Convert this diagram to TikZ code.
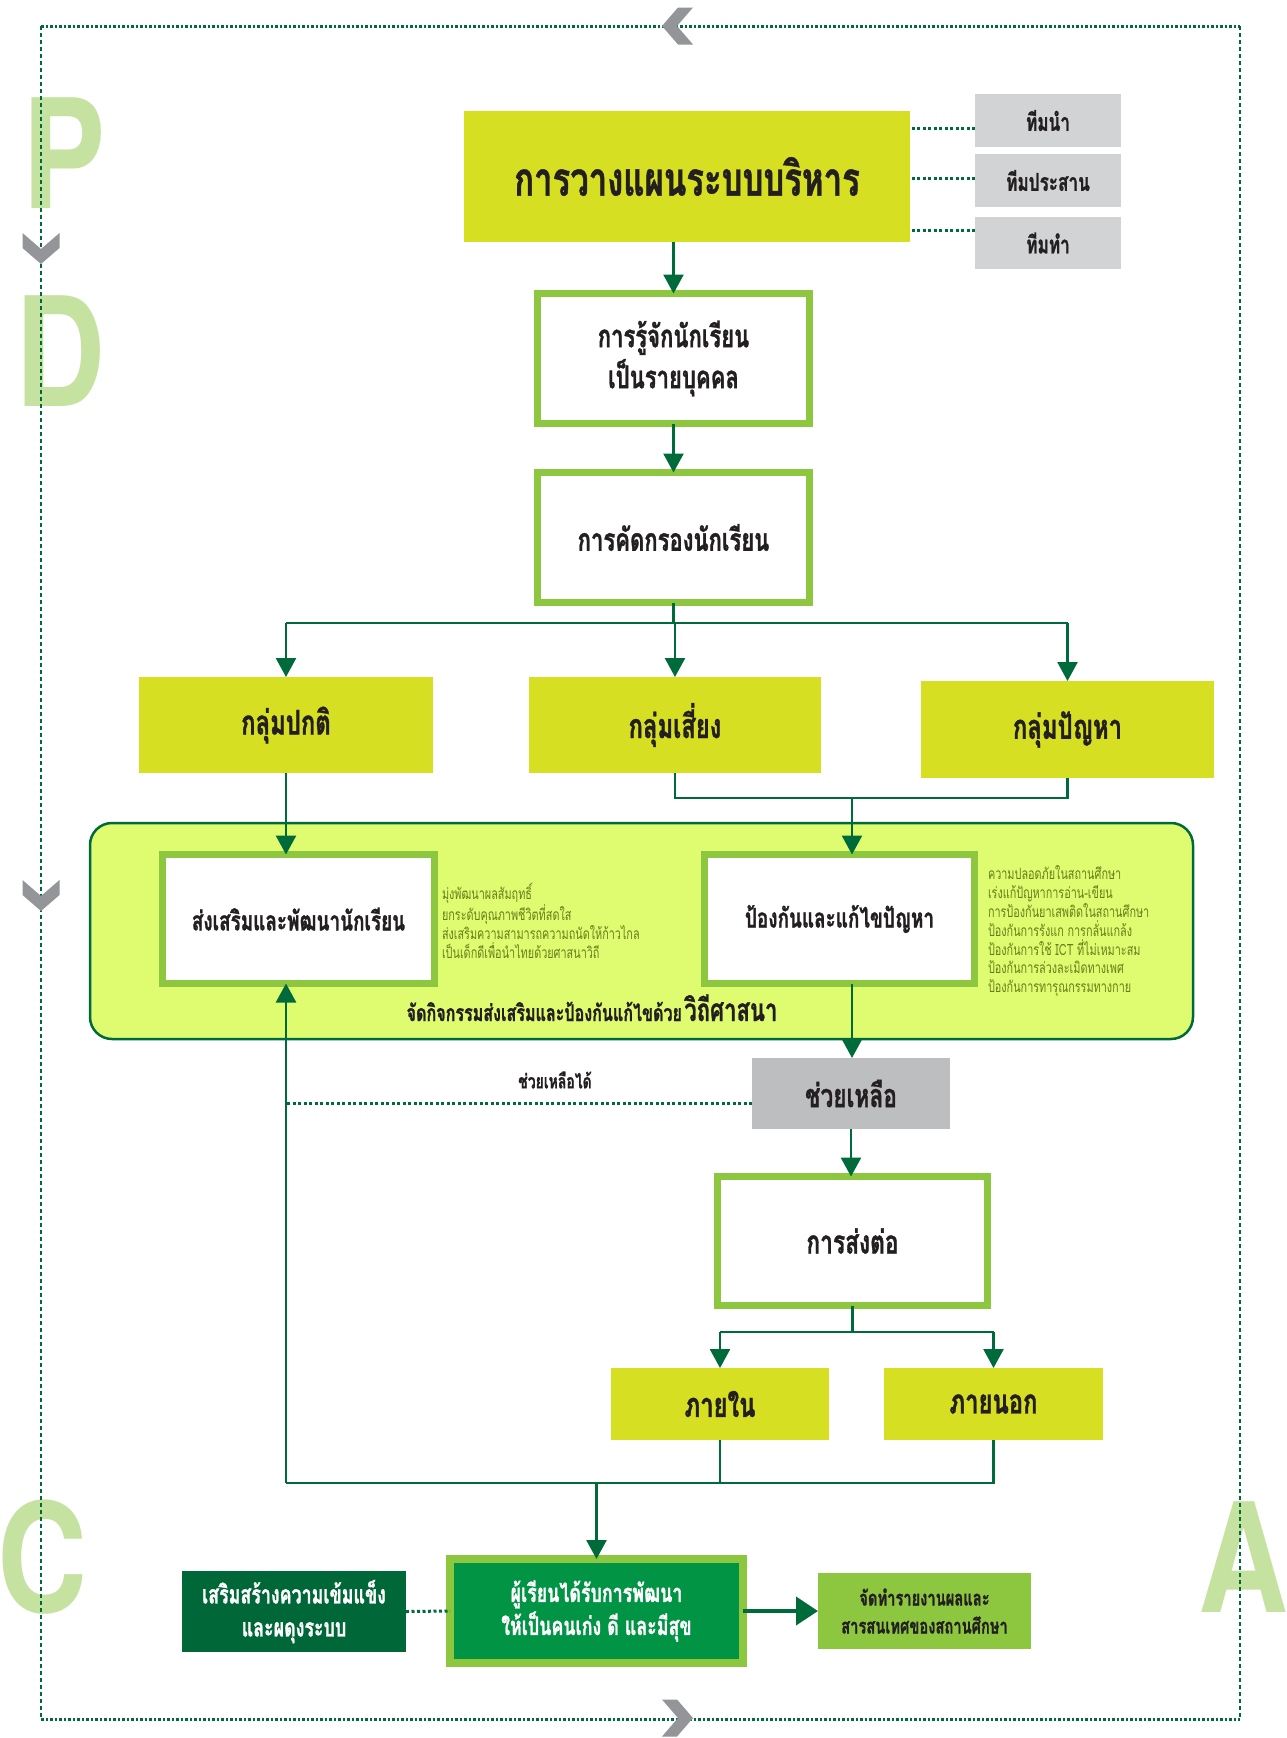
\documentclass[tikz,border=0pt]{standalone}
\usepackage{fontspec}
\usetikzlibrary{arrows.meta,calc}
\newfontfamily\thai[Script=Thai,FakeStretch=0.7,BoldFeatures={FakeBold=1}]{Loma}
\newfontfamily\pdca[FakeStretch=0.82]{TeX Gyre Heros}
\definecolor{lime}{HTML}{D7DF23}
\definecolor{lgreen}{HTML}{8DC63F}
\definecolor{dkgreen}{HTML}{006B3A}
\definecolor{midgreen}{HTML}{009444}
\definecolor{darkbox}{HTML}{006838}
\definecolor{region}{HTML}{DFFC70}
\definecolor{teamgray}{HTML}{D1D3D4}
\definecolor{helpgray}{HTML}{BCBEC0}
\definecolor{letter}{HTML}{C6E2A0}
\definecolor{chev}{HTML}{939598}
\definecolor{ink}{HTML}{231F20}
\definecolor{olive}{HTML}{647F1A}
\begin{document}
\begin{tikzpicture}[x=1pt,y=-1pt,
  every node/.style={inner sep=0pt, outer sep=0pt, text=ink, font=\thai\bfseries},
  limebox/.style={fill=lime, align=center},
  wbox/.style={fill=white, draw=lgreen, line width=7pt, align=center},
  graybox/.style={fill=teamgray, align=center},
  link/.style={draw=dkgreen, line width=2.6pt},
  flow/.style={link, -{Triangle[length=19pt,width=20pt]}},
  dotline/.style={draw=dkgreen, line width=3pt, dash pattern=on 3pt off 2.5pt},
  letterstyle/.style={text=letter, font=\pdca\bfseries\fontsize{152}{152}\selectfont},
  small/.style={text=olive, align=left, font=\thai\fontsize{15.5}{18.8}\selectfont}
]
\useasboundingbox (0,0) rectangle (1287,1738);
\fill[white] (0,0) rectangle (1287,1738);

% PDCA letters
\node[letterstyle] (P) at (64,153) {P};
\node[letterstyle] (D) at (60,351) {D};
\node[letterstyle] (C) at (42,1557) {C};
\node[letterstyle] (A) at (1243,1557) {A};

% frame
\coordinate (fTL) at (41,26);
\coordinate (fTR) at (1240,26);
\coordinate (fBL) at (41,1719);
\coordinate (fBR) at (1240,1719);
\draw[dkgreen, line width=3pt, dash pattern=on 2.5pt off 2pt] (fTL) -- (fTR);
\draw[dkgreen, line width=3pt, dash pattern=on 2.5pt off 2pt] (fBL) -- (fBR);
\draw[dkgreen, line width=2pt, dash pattern=on 4pt off 3pt] (fTL) -- (fBL);
\draw[dkgreen, line width=2pt, dash pattern=on 4pt off 3pt] (fTR) -- (fBR);

% chevrons
\fill[chev] (693,7.5) -- (677,26) -- (693,44.5) -- (678,44.5) -- (662,26) -- (678,7.5) -- cycle;
\fill[chev] (662,1699.5) -- (678,1718) -- (662,1736.5) -- (677,1736.5) -- (693,1718) -- (677,1699.5) -- cycle;
\fill[chev] (22.5,233) -- (41,249) -- (59.5,233) -- (59.5,248) -- (41,264) -- (22.5,248) -- cycle;
\fill[chev] (22.5,880) -- (41,896) -- (59.5,880) -- (59.5,895) -- (41,911) -- (22.5,895) -- cycle;

% planning
\node[limebox, minimum width=446pt, minimum height=131pt, font=\thai\bfseries\fontsize{47}{50}\selectfont] (main) at (687,176.5) {การวางแผนระบบบริหาร};
\node[graybox, minimum width=146pt, minimum height=53pt, font=\thai\bfseries\fontsize{24.5}{28}\selectfont] (t1) at (1048,120.5) {ทีมนำ};
\node[graybox, minimum width=146pt, minimum height=53pt, font=\thai\bfseries\fontsize{24.5}{28}\selectfont] (t2) at (1048,180.5) {ทีมประสาน};
\node[graybox, minimum width=146pt, minimum height=52pt, font=\thai\bfseries\fontsize{24.5}{28}\selectfont] (t3) at (1048,243) {ทีมทำ};
\coordinate (d1) at ($(t1.west)+(0,7.5)$);
\coordinate (d2) at ($(t2.west)+(0,-2.5)$);
\coordinate (d3) at ($(t3.west)+(0,-13)$);
\draw[dotline] (d1) -- (d1 -| main.east);
\draw[dotline] (d2) -- (d2 -| main.east);
\draw[dotline] (d3) -- (d3 -| main.east);

\node[wbox, minimum width=272pt, minimum height=130pt, font=\thai\bfseries\fontsize{31.5}{41}\selectfont] (know) at (673.5,358.5) {การรู้จักนักเรียน\\เป็นรายบุคคล};
\node[wbox, minimum width=272pt, minimum height=130pt, font=\thai\bfseries\fontsize{31.5}{36}\selectfont] (screen) at (673.5,537.5) {การคัดกรองนักเรียน};
\draw[flow] (know.north |- main.south) -- (know.north);
\draw[flow] (know.south) -- (screen.north);

% groups
\node[limebox, minimum width=294pt, minimum height=96pt, font=\thai\bfseries\fontsize{34}{38}\selectfont] (g1) at (286,725) {กลุ่มปกติ};
\node[limebox, minimum width=292pt, minimum height=96pt, font=\thai\bfseries\fontsize{34}{38}\selectfont] (g2) at (675,725) {กลุ่มเสี่ยง};
\node[limebox, minimum width=293pt, minimum height=97pt, font=\thai\bfseries\fontsize{34}{38}\selectfont] (g3) at (1067.5,729.5) {กลุ่มปัญหา};
\coordinate (split) at (673.5,623);
\draw[link] (screen.south) -- (split);
\draw[link] (g1.north |- split) -- (g3.north |- split);
\draw[flow] (g1.north |- split) -- (g1.north);
\draw[flow] (g2.north |- split) -- (g2.north);
\draw[flow] (g3.north |- split) -- (g3.north);

% region
\node[draw=dkgreen, line width=2.5pt, fill=region, rounded corners=22pt, minimum width=1103pt, minimum height=216pt] (zone) at (641.5,931) {};
\node[wbox, minimum width=272pt, minimum height=129pt, font=\thai\bfseries\fontsize{27}{32}\selectfont] (promote) at (298.5,919) {ส่งเสริมและพัฒนานักเรียน};
\node[wbox, minimum width=270pt, minimum height=129pt, font=\thai\bfseries\fontsize{27}{32}\selectfont] (prevent) at (839.5,919) {ป้องกันและแก้ไขปัญหา};
\node[small, anchor=north west] (ptext) at (442,883) {มุ่งพัฒนาผลสัมฤทธิ์\\ยกระดับคุณภาพชีวิตที่สดใส\\ส่งเสริมความสามารถความถนัดให้ก้าวไกล\\เป็นเด็กดีเพื่อนำไทยด้วยศาสนาวิถี};
\node[small, anchor=north west] (vtext) at (988,866) {ความปลอดภัยในสถานศึกษา\\เร่งแก้ปัญหาการอ่าน-เขียน\\การป้องกันยาเสพติดในสถานศึกษา\\ป้องกันการรังแก การกลั่นแกล้ง\\ป้องกันการใช้ ICT ที่ไม่เหมาะสม\\ป้องกันการล่วงละเมิดทางเพศ\\ป้องกันการทารุณกรรมทางกาย};
\node[anchor=base] (caption) at (592,1021) {{\fontsize{23}{26}\selectfont จัดกิจกรรมส่งเสริมและป้องกันแก้ไขด้วย} {\fontsize{31.5}{34}\selectfont วิถีศาสนา}};

\coordinate (join) at (852,798);
\draw[link] (g2.south) |- (g3.south |- join) -- (g3.south);
\draw[flow] (join) -- (join |- prevent.north);
\draw[flow] (g1.south) -- (g1.south |- promote.north);

% help & refer
\node[fill=helpgray, minimum width=198pt, minimum height=71pt, font=\thai\bfseries\fontsize{32.5}{36}\selectfont] (help) at (851,1093.5) {ช่วยเหลือ};
\draw[flow] (join |- prevent.south) -- (join |- help.north);
\node[wbox, minimum width=270pt, minimum height=129pt, font=\thai\bfseries\fontsize{32.5}{36}\selectfont] (refer) at (852.5,1241) {การส่งต่อ};
\draw[flow] (help.south) -- (help.south |- refer.north);
\coordinate (hl) at ($(help.west)+(0,9.5)$);
\draw[dotline] (hl) -- (hl -| g1.south);
\node[font=\thai\bfseries\fontsize{20}{23}\selectfont] (canhelp) at (555,1080) {ช่วยเหลือได้};

\node[limebox, minimum width=218pt, minimum height=72pt, font=\thai\bfseries\fontsize{34}{38}\selectfont] (inside) at (720,1404) {ภายใน};
\node[limebox, minimum width=219pt, minimum height=72pt, font=\thai\bfseries\fontsize{34}{38}\selectfont] (outside) at (993.5,1404) {ภายนอก};
\coordinate (rsplit) at (852.5,1332);
\draw[link] (refer.south) -- (rsplit);
\draw[link] (inside.north |- rsplit) -- (outside.north |- rsplit);
\draw[flow] (inside.north |- rsplit) -- (inside.north);
\draw[flow] (outside.north |- rsplit) -- (outside.north);

% bottom collection
\coordinate (bjoin) at (596.5,1483);
\draw[link] (inside.south) -- (inside.south |- bjoin);
\draw[link] (outside.south) -- (outside.south |- bjoin) -- (g1.south |- bjoin);
\draw[flow] (g1.south |- bjoin) -- (g1.south |- promote.south);

% outcome row
\node[fill=midgreen, draw=lgreen, line width=8pt, minimum width=293pt, minimum height=104pt, align=center, text=white, font=\thai\bfseries\fontsize{25.5}{33}\selectfont] (result) at (596.5,1611) {ผู้เรียนได้รับการพัฒนา\\ให้เป็นคนเก่ง ดี และมีสุข};
\draw[flow] (bjoin) -- (result.north);
\node[fill=darkbox, minimum width=224pt, minimum height=81pt, align=center, text=white, font=\thai\bfseries\fontsize{25.5}{33}\selectfont] (strong) at (294,1611.5) {เสริมสร้างความเข้มแข็ง\\และผดุงระบบ};
\node[fill=lgreen, minimum width=213pt, minimum height=76pt, align=center, font=\thai\bfseries\fontsize{21}{28}\selectfont] (report) at (924.5,1611) {จัดทำรายงานผลและ\\สารสนเทศของสถานศึกษา};
\draw[dotline] (strong.east) -- (result.west);
\draw[dkgreen, line width=4pt, -{Triangle[length=22pt,width=28pt]}] (result.east) -- (report.west);
\end{tikzpicture}
\end{document}
